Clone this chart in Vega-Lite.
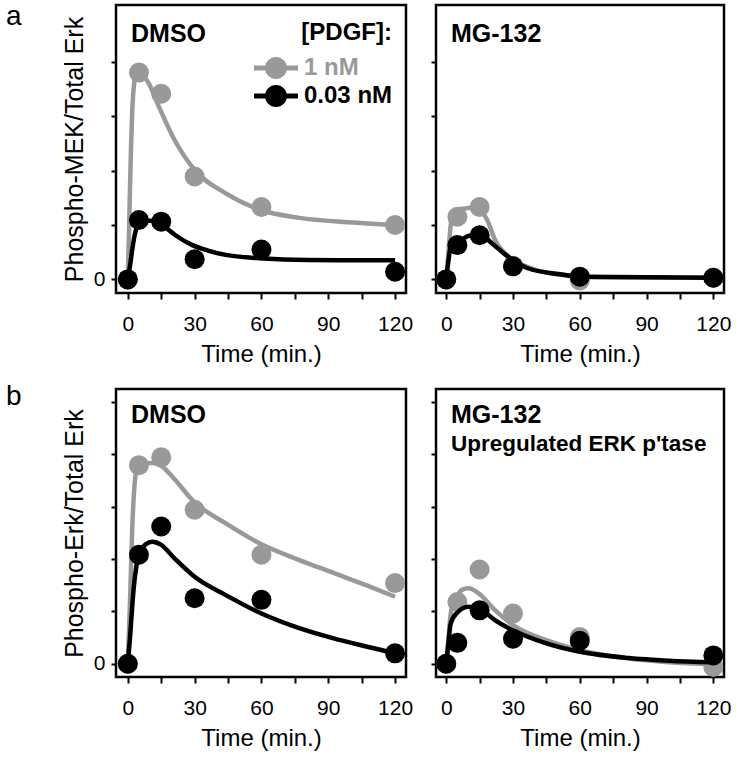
{
"$schema": "https://vega.github.io/schema/vega-lite/v6.json",
"background": "white",
"padding": {"left": 5, "top": 3, "right": 5, "bottom": 5},
"config": {
  "font": "Liberation Sans",
  "view": {"stroke": "black", "strokeWidth": 2.5},
  "axis": {"domain": false, "grid": false, "tickColor": "black", "tickWidth": 2, "labelColor": "black", "titleColor": "black", "titleFontWeight": "normal", "labelFont": "Liberation Sans", "titleFont": "Liberation Sans", "labelFontSize": 21}
},
"datasets": {
"pts": [
{"panel":"aDMSO","pdgf":"1 nM","t":0,"v":0},{"panel":"aDMSO","pdgf":"1 nM","t":5,"v":3.80},{"panel":"aDMSO","pdgf":"1 nM","t":15,"v":3.41},{"panel":"aDMSO","pdgf":"1 nM","t":30,"v":1.89},{"panel":"aDMSO","pdgf":"1 nM","t":60,"v":1.33},{"panel":"aDMSO","pdgf":"1 nM","t":120,"v":1.00},
{"panel":"aDMSO","pdgf":"0.03 nM","t":0,"v":0},{"panel":"aDMSO","pdgf":"0.03 nM","t":5,"v":1.09},{"panel":"aDMSO","pdgf":"0.03 nM","t":15,"v":1.06},{"panel":"aDMSO","pdgf":"0.03 nM","t":30,"v":0.37},{"panel":"aDMSO","pdgf":"0.03 nM","t":60,"v":0.55},{"panel":"aDMSO","pdgf":"0.03 nM","t":120,"v":0.14},
{"panel":"aMG","pdgf":"1 nM","t":0,"v":0},{"panel":"aMG","pdgf":"1 nM","t":5,"v":1.15},{"panel":"aMG","pdgf":"1 nM","t":15,"v":1.33},{"panel":"aMG","pdgf":"1 nM","t":30,"v":0.25},{"panel":"aMG","pdgf":"1 nM","t":60,"v":-0.02},{"panel":"aMG","pdgf":"1 nM","t":120,"v":0.03},
{"panel":"aMG","pdgf":"0.03 nM","t":0,"v":0},{"panel":"aMG","pdgf":"0.03 nM","t":5,"v":0.63},{"panel":"aMG","pdgf":"0.03 nM","t":15,"v":0.81},{"panel":"aMG","pdgf":"0.03 nM","t":30,"v":0.24},{"panel":"aMG","pdgf":"0.03 nM","t":60,"v":0.05},{"panel":"aMG","pdgf":"0.03 nM","t":120,"v":0.03},
{"panel":"bDMSO","pdgf":"1 nM","t":0,"v":0},{"panel":"bDMSO","pdgf":"1 nM","t":5,"v":3.79},{"panel":"bDMSO","pdgf":"1 nM","t":15,"v":3.94},{"panel":"bDMSO","pdgf":"1 nM","t":30,"v":2.94},{"panel":"bDMSO","pdgf":"1 nM","t":60,"v":2.08},{"panel":"bDMSO","pdgf":"1 nM","t":120,"v":1.54},
{"panel":"bDMSO","pdgf":"0.03 nM","t":0,"v":0},{"panel":"bDMSO","pdgf":"0.03 nM","t":5,"v":2.08},{"panel":"bDMSO","pdgf":"0.03 nM","t":15,"v":2.62},{"panel":"bDMSO","pdgf":"0.03 nM","t":30,"v":1.25},{"panel":"bDMSO","pdgf":"0.03 nM","t":60,"v":1.22},{"panel":"bDMSO","pdgf":"0.03 nM","t":120,"v":0.20},
{"panel":"bMG","pdgf":"1 nM","t":0,"v":0},{"panel":"bMG","pdgf":"1 nM","t":5,"v":1.18},{"panel":"bMG","pdgf":"1 nM","t":15,"v":1.80},{"panel":"bMG","pdgf":"1 nM","t":30,"v":0.96},{"panel":"bMG","pdgf":"1 nM","t":60,"v":0.51},{"panel":"bMG","pdgf":"1 nM","t":120,"v":-0.06},
{"panel":"bMG","pdgf":"0.03 nM","t":0,"v":0},{"panel":"bMG","pdgf":"0.03 nM","t":5,"v":0.40},{"panel":"bMG","pdgf":"0.03 nM","t":15,"v":1.02},{"panel":"bMG","pdgf":"0.03 nM","t":30,"v":0.48},{"panel":"bMG","pdgf":"0.03 nM","t":60,"v":0.44},{"panel":"bMG","pdgf":"0.03 nM","t":120,"v":0.16}
],
"curves": [
{"panel":"aDMSO","pdgf":"1 nM","t":0,"v":0},{"panel":"aDMSO","pdgf":"1 nM","t":0.5,"v":0.8},{"panel":"aDMSO","pdgf":"1 nM","t":1,"v":1.7},{"panel":"aDMSO","pdgf":"1 nM","t":1.5,"v":2.5},{"panel":"aDMSO","pdgf":"1 nM","t":2,"v":3.1},{"panel":"aDMSO","pdgf":"1 nM","t":3,"v":3.65},{"panel":"aDMSO","pdgf":"1 nM","t":4,"v":3.82},{"panel":"aDMSO","pdgf":"1 nM","t":5,"v":3.85},{"panel":"aDMSO","pdgf":"1 nM","t":7,"v":3.75},{"panel":"aDMSO","pdgf":"1 nM","t":9.4,"v":3.6},{"panel":"aDMSO","pdgf":"1 nM","t":14,"v":3.17},{"panel":"aDMSO","pdgf":"1 nM","t":21,"v":2.56},{"panel":"aDMSO","pdgf":"1 nM","t":30,"v":2.01},{"panel":"aDMSO","pdgf":"1 nM","t":44,"v":1.58},{"panel":"aDMSO","pdgf":"1 nM","t":60,"v":1.27},{"panel":"aDMSO","pdgf":"1 nM","t":77,"v":1.13},{"panel":"aDMSO","pdgf":"1 nM","t":99,"v":1.05},{"panel":"aDMSO","pdgf":"1 nM","t":120,"v":1.0},
{"panel":"aDMSO","pdgf":"0.03 nM","t":0,"v":0},{"panel":"aDMSO","pdgf":"0.03 nM","t":1,"v":0.25},{"panel":"aDMSO","pdgf":"0.03 nM","t":2,"v":0.55},{"panel":"aDMSO","pdgf":"0.03 nM","t":3,"v":0.8},{"panel":"aDMSO","pdgf":"0.03 nM","t":4,"v":0.95},{"panel":"aDMSO","pdgf":"0.03 nM","t":5,"v":1.02},{"panel":"aDMSO","pdgf":"0.03 nM","t":8,"v":1.08},{"panel":"aDMSO","pdgf":"0.03 nM","t":12,"v":1.07},{"panel":"aDMSO","pdgf":"0.03 nM","t":15,"v":1.02},{"panel":"aDMSO","pdgf":"0.03 nM","t":18,"v":0.92},{"panel":"aDMSO","pdgf":"0.03 nM","t":21.4,"v":0.81},{"panel":"aDMSO","pdgf":"0.03 nM","t":29,"v":0.63},{"panel":"aDMSO","pdgf":"0.03 nM","t":36,"v":0.53},{"panel":"aDMSO","pdgf":"0.03 nM","t":44,"v":0.45},{"panel":"aDMSO","pdgf":"0.03 nM","t":59,"v":0.39},{"panel":"aDMSO","pdgf":"0.03 nM","t":81,"v":0.355},{"panel":"aDMSO","pdgf":"0.03 nM","t":120,"v":0.35},
{"panel":"aMG","pdgf":"1 nM","t":0,"v":0},{"panel":"aMG","pdgf":"1 nM","t":1,"v":0.5},{"panel":"aMG","pdgf":"1 nM","t":2,"v":1.0},{"panel":"aMG","pdgf":"1 nM","t":3,"v":1.2},{"panel":"aMG","pdgf":"1 nM","t":5,"v":1.28},{"panel":"aMG","pdgf":"1 nM","t":8,"v":1.3},{"panel":"aMG","pdgf":"1 nM","t":12,"v":1.32},{"panel":"aMG","pdgf":"1 nM","t":15,"v":1.28},{"panel":"aMG","pdgf":"1 nM","t":18.4,"v":1.09},{"panel":"aMG","pdgf":"1 nM","t":22,"v":0.72},{"panel":"aMG","pdgf":"1 nM","t":28,"v":0.42},{"panel":"aMG","pdgf":"1 nM","t":37,"v":0.22},{"panel":"aMG","pdgf":"1 nM","t":52,"v":0.08},{"panel":"aMG","pdgf":"1 nM","t":70,"v":0.04},{"panel":"aMG","pdgf":"1 nM","t":120,"v":0.03},
{"panel":"aMG","pdgf":"0.03 nM","t":0,"v":0},{"panel":"aMG","pdgf":"0.03 nM","t":1,"v":0.35},{"panel":"aMG","pdgf":"0.03 nM","t":2,"v":0.6},{"panel":"aMG","pdgf":"0.03 nM","t":5,"v":0.67},{"panel":"aMG","pdgf":"0.03 nM","t":10,"v":0.8},{"panel":"aMG","pdgf":"0.03 nM","t":15,"v":0.83},{"panel":"aMG","pdgf":"0.03 nM","t":20.6,"v":0.66},{"panel":"aMG","pdgf":"0.03 nM","t":26.7,"v":0.45},{"panel":"aMG","pdgf":"0.03 nM","t":37,"v":0.2},{"panel":"aMG","pdgf":"0.03 nM","t":52,"v":0.09},{"panel":"aMG","pdgf":"0.03 nM","t":60,"v":0.05},{"panel":"aMG","pdgf":"0.03 nM","t":120,"v":0.03},
{"panel":"bDMSO","pdgf":"1 nM","t":0,"v":0},{"panel":"bDMSO","pdgf":"1 nM","t":1,"v":1.2},{"panel":"bDMSO","pdgf":"1 nM","t":2,"v":2.6},{"panel":"bDMSO","pdgf":"1 nM","t":3,"v":3.4},{"panel":"bDMSO","pdgf":"1 nM","t":4,"v":3.7},{"panel":"bDMSO","pdgf":"1 nM","t":6,"v":3.8},{"panel":"bDMSO","pdgf":"1 nM","t":11,"v":3.83},{"panel":"bDMSO","pdgf":"1 nM","t":15,"v":3.78},{"panel":"bDMSO","pdgf":"1 nM","t":20,"v":3.57},{"panel":"bDMSO","pdgf":"1 nM","t":30,"v":3.08},{"panel":"bDMSO","pdgf":"1 nM","t":44,"v":2.68},{"panel":"bDMSO","pdgf":"1 nM","t":60,"v":2.28},{"panel":"bDMSO","pdgf":"1 nM","t":77,"v":1.98},{"panel":"bDMSO","pdgf":"1 nM","t":92,"v":1.74},{"panel":"bDMSO","pdgf":"1 nM","t":107,"v":1.5},{"panel":"bDMSO","pdgf":"1 nM","t":120,"v":1.28},
{"panel":"bDMSO","pdgf":"0.03 nM","t":0,"v":0},{"panel":"bDMSO","pdgf":"0.03 nM","t":1,"v":0.5},{"panel":"bDMSO","pdgf":"0.03 nM","t":2,"v":1.1},{"panel":"bDMSO","pdgf":"0.03 nM","t":2.7,"v":1.47},{"panel":"bDMSO","pdgf":"0.03 nM","t":4,"v":1.9},{"panel":"bDMSO","pdgf":"0.03 nM","t":5,"v":2.1},{"panel":"bDMSO","pdgf":"0.03 nM","t":8,"v":2.28},{"panel":"bDMSO","pdgf":"0.03 nM","t":11,"v":2.33},{"panel":"bDMSO","pdgf":"0.03 nM","t":15,"v":2.27},{"panel":"bDMSO","pdgf":"0.03 nM","t":21,"v":2.01},{"panel":"bDMSO","pdgf":"0.03 nM","t":30,"v":1.66},{"panel":"bDMSO","pdgf":"0.03 nM","t":44,"v":1.31},{"panel":"bDMSO","pdgf":"0.03 nM","t":60,"v":0.96},{"panel":"bDMSO","pdgf":"0.03 nM","t":77,"v":0.68},{"panel":"bDMSO","pdgf":"0.03 nM","t":92,"v":0.49},{"panel":"bDMSO","pdgf":"0.03 nM","t":107,"v":0.33},{"panel":"bDMSO","pdgf":"0.03 nM","t":120,"v":0.2},
{"panel":"bMG","pdgf":"1 nM","t":0,"v":0},{"panel":"bMG","pdgf":"1 nM","t":1,"v":0.5},{"panel":"bMG","pdgf":"1 nM","t":2,"v":0.95},{"panel":"bMG","pdgf":"1 nM","t":3,"v":1.15},{"panel":"bMG","pdgf":"1 nM","t":5,"v":1.3},{"panel":"bMG","pdgf":"1 nM","t":7,"v":1.41},{"panel":"bMG","pdgf":"1 nM","t":10,"v":1.44},{"panel":"bMG","pdgf":"1 nM","t":14.7,"v":1.34},{"panel":"bMG","pdgf":"1 nM","t":22,"v":1.02},{"panel":"bMG","pdgf":"1 nM","t":30,"v":0.74},{"panel":"bMG","pdgf":"1 nM","t":45,"v":0.45},{"panel":"bMG","pdgf":"1 nM","t":60,"v":0.26},{"panel":"bMG","pdgf":"1 nM","t":82,"v":0.1},{"panel":"bMG","pdgf":"1 nM","t":100,"v":0.03},{"panel":"bMG","pdgf":"1 nM","t":120,"v":-0.01},
{"panel":"bMG","pdgf":"0.03 nM","t":0,"v":0},{"panel":"bMG","pdgf":"0.03 nM","t":1,"v":0.4},{"panel":"bMG","pdgf":"0.03 nM","t":2,"v":0.77},{"panel":"bMG","pdgf":"0.03 nM","t":5,"v":0.98},{"panel":"bMG","pdgf":"0.03 nM","t":10,"v":1.09},{"panel":"bMG","pdgf":"0.03 nM","t":15,"v":1.05},{"panel":"bMG","pdgf":"0.03 nM","t":22,"v":0.83},{"panel":"bMG","pdgf":"0.03 nM","t":30,"v":0.64},{"panel":"bMG","pdgf":"0.03 nM","t":45,"v":0.39},{"panel":"bMG","pdgf":"0.03 nM","t":60,"v":0.23},{"panel":"bMG","pdgf":"0.03 nM","t":82,"v":0.11},{"panel":"bMG","pdgf":"0.03 nM","t":100,"v":0.06},{"panel":"bMG","pdgf":"0.03 nM","t":120,"v":0.03}
]
},
"spacing": 15,
"resolve": {"scale": {"x": "independent", "y": "independent", "fill": "independent"}, "legend": {"fill": "independent"}},
"vconcat": [
{
  "title": {"text": "a", "orient": "left", "anchor": "end", "angle": 0, "align": "right", "baseline": "top", "offset": 24, "dy": -2, "fontSize": 28, "fontWeight": "normal", "frame": "group", "color": "black"},
  "bounds": "flush",
  "spacing": 30,
  "resolve": {"scale": {"x": "independent", "y": "independent", "fill": "independent"}, "legend": {"fill": "independent"}},
  "hconcat": [
  {
    "width": 290, "height": 288,
    "title": {"text": "DMSO", "anchor": "start", "frame": "group", "offset": 0, "dx": 15, "dy": 42, "baseline": "top", "fontSize": 25, "fontWeight": "bold", "color": "black"},
    "encoding": {
      "x": {"field": "t", "type": "quantitative", "scale": {"domain": [-5.3, 124.9], "nice": false, "zero": false}, "axis": {"title": "Time (min.)", "values": [0,15,30,45,60,75,90,105,120], "labelExpr": "datum.value % 30 === 0 ? datum.label : ''", "tickSize": 6, "labelPadding": 14, "titlePadding": 8, "labelFlush": false, "labelOverlap": false, "titleFontSize": 24}},
      "y": {"field": "v", "type": "quantitative", "scale": {"domain": [-0.25, 5.04], "nice": false, "zero": false}, "axis": {"title": "Phospho-MEK/Total Erk", "values": [0,1,2,3,4], "labelExpr": "datum.value === 0 ? '0' : ''", "tickSize": 5, "labelPadding": 6, "titlePadding": 6, "titleFontSize": 25, "labelOverlap": false}}
    },
    "layer": [
      {"data": {"name": "curves"}, "transform": [{"filter": "datum.panel === 'aDMSO' && datum.pdgf === '1 nM'"}], "mark": {"type": "line", "strokeWidth": 4.5, "interpolate": "monotone", "color": "#999999"}},
      {"data": {"name": "pts"}, "transform": [{"filter": "datum.panel === 'aDMSO' && datum.pdgf === '1 nM'"}], "mark": {"type": "circle", "size": 400, "opacity": 1, "strokeWidth": 0}, "encoding": {"fill": {"field": "pdgf", "type": "nominal", "scale": {"domain": ["1 nM", "0.03 nM"], "range": ["#999999", "#000000"]}, "legend": {"title": "[PDGF]:", "orient": "none", "legendX": 148, "legendY": 16, "padding": 0, "symbolType": "M-2,-0.23L2,-0.23L2,0.23L-2,0.23Z M1,0A1,1 0 1,1 -1,0A1,1 0 1,1 1,0Z", "symbolSize": 484, "symbolStrokeWidth": 0, "symbolOpacity": 1, "labelFontSize": 24, "labelFontWeight": "bold", "labelOffset": 16, "titleFontSize": 24, "titleFontWeight": "bold", "titleColor": "black", "titleAnchor": "end", "titlePadding": 11, "rowPadding": 4, "labelFont": "Liberation Sans", "titleFont": "Liberation Sans", "labelColor": {"expr": "datum.value === '1 nM' ? '#999999' : '#000000'"}}}}},
      {"data": {"name": "curves"}, "transform": [{"filter": "datum.panel === 'aDMSO' && datum.pdgf === '0.03 nM'"}], "mark": {"type": "line", "strokeWidth": 4.5, "interpolate": "monotone", "color": "#000000"}},
      {"data": {"name": "pts"}, "transform": [{"filter": "datum.panel === 'aDMSO' && datum.pdgf === '0.03 nM'"}], "mark": {"type": "circle", "size": 400, "opacity": 1, "strokeWidth": 0}, "encoding": {"fill": {"field": "pdgf", "type": "nominal", "scale": {"domain": ["1 nM", "0.03 nM"], "range": ["#999999", "#000000"]}, "legend": {"title": "[PDGF]:", "orient": "none", "legendX": 148, "legendY": 16, "padding": 0, "symbolType": "M-2,-0.23L2,-0.23L2,0.23L-2,0.23Z M1,0A1,1 0 1,1 -1,0A1,1 0 1,1 1,0Z", "symbolSize": 484, "symbolStrokeWidth": 0, "symbolOpacity": 1, "labelFontSize": 24, "labelFontWeight": "bold", "labelOffset": 16, "titleFontSize": 24, "titleFontWeight": "bold", "titleColor": "black", "titleAnchor": "end", "titlePadding": 11, "rowPadding": 4, "labelFont": "Liberation Sans", "titleFont": "Liberation Sans", "labelColor": {"expr": "datum.value === '1 nM' ? '#999999' : '#000000'"}}}}}
    ]
  },
  {
    "width": 288, "height": 288,
    "title": {"text": "MG-132", "anchor": "start", "frame": "group", "offset": 0, "dx": 15, "dy": 42, "baseline": "top", "fontSize": 25, "fontWeight": "bold", "color": "black"},
    "encoding": {
      "x": {"field": "t", "type": "quantitative", "scale": {"domain": [-4.6, 124.8], "nice": false, "zero": false}, "axis": {"title": "Time (min.)", "values": [0,15,30,45,60,75,90,105,120], "labelExpr": "datum.value % 30 === 0 ? datum.label : ''", "tickSize": 6, "labelPadding": 14, "titlePadding": 8, "labelFlush": false, "labelOverlap": false, "titleFontSize": 24}},
      "y": {"field": "v", "type": "quantitative", "scale": {"domain": [-0.25, 5.04], "nice": false, "zero": false}, "axis": {"title": null, "values": [0,1,2,3,4], "labels": false, "tickSize": 5}}
    },
    "layer": [
      {"data": {"name": "curves"}, "transform": [{"filter": "datum.panel === 'aMG' && datum.pdgf === '1 nM'"}], "mark": {"type": "line", "strokeWidth": 4.5, "interpolate": "monotone", "color": "#999999"}},
      {"data": {"name": "pts"}, "transform": [{"filter": "datum.panel === 'aMG' && datum.pdgf === '1 nM'"}], "mark": {"type": "circle", "size": 400, "opacity": 1, "strokeWidth": 0}, "encoding": {"fill": {"field": "pdgf", "type": "nominal", "scale": {"domain": ["1 nM", "0.03 nM"], "range": ["#999999", "#000000"]}, "legend": null}}},
      {"data": {"name": "curves"}, "transform": [{"filter": "datum.panel === 'aMG' && datum.pdgf === '0.03 nM'"}], "mark": {"type": "line", "strokeWidth": 4.5, "interpolate": "monotone", "color": "#000000"}},
      {"data": {"name": "pts"}, "transform": [{"filter": "datum.panel === 'aMG' && datum.pdgf === '0.03 nM'"}], "mark": {"type": "circle", "size": 400, "opacity": 1, "strokeWidth": 0}, "encoding": {"fill": {"field": "pdgf", "type": "nominal", "scale": {"domain": ["1 nM", "0.03 nM"], "range": ["#999999", "#000000"]}, "legend": null}}}
    ]
  }
  ]
},
{
  "title": {"text": "b", "orient": "left", "anchor": "end", "angle": 0, "align": "right", "baseline": "top", "offset": 24, "dy": -6, "fontSize": 28, "fontWeight": "normal", "frame": "group", "color": "black"},
  "bounds": "flush",
  "spacing": 30,
  "resolve": {"scale": {"x": "independent", "y": "independent", "fill": "independent"}, "legend": {"fill": "independent"}},
  "hconcat": [
  {
    "width": 290, "height": 288,
    "title": {"text": "DMSO", "anchor": "start", "frame": "group", "offset": 0, "dx": 15, "dy": 39, "baseline": "top", "fontSize": 25, "fontWeight": "bold", "color": "black"},
    "encoding": {
      "x": {"field": "t", "type": "quantitative", "scale": {"domain": [-5.3, 124.9], "nice": false, "zero": false}, "axis": {"title": "Time (min.)", "values": [0,15,30,45,60,75,90,105,120], "labelExpr": "datum.value % 30 === 0 ? datum.label : ''", "tickSize": 6, "labelPadding": 14, "titlePadding": 8, "labelFlush": false, "labelOverlap": false, "titleFontSize": 24}},
      "y": {"field": "v", "type": "quantitative", "scale": {"domain": [-0.252, 5.244], "nice": false, "zero": false}, "axis": {"title": "Phospho-Erk/Total Erk", "values": [0,1,2,3,4,5], "labelExpr": "datum.value === 0 ? '0' : ''", "tickSize": 5, "labelPadding": 6, "titlePadding": 6, "titleFontSize": 25, "labelOverlap": false}}
    },
    "layer": [
      {"data": {"name": "curves"}, "transform": [{"filter": "datum.panel === 'bDMSO' && datum.pdgf === '1 nM'"}], "mark": {"type": "line", "strokeWidth": 4.5, "interpolate": "monotone", "color": "#999999"}},
      {"data": {"name": "pts"}, "transform": [{"filter": "datum.panel === 'bDMSO' && datum.pdgf === '1 nM'"}], "mark": {"type": "circle", "size": 400, "opacity": 1, "strokeWidth": 0}, "encoding": {"fill": {"field": "pdgf", "type": "nominal", "scale": {"domain": ["1 nM", "0.03 nM"], "range": ["#999999", "#000000"]}, "legend": null}}},
      {"data": {"name": "curves"}, "transform": [{"filter": "datum.panel === 'bDMSO' && datum.pdgf === '0.03 nM'"}], "mark": {"type": "line", "strokeWidth": 4.5, "interpolate": "monotone", "color": "#000000"}},
      {"data": {"name": "pts"}, "transform": [{"filter": "datum.panel === 'bDMSO' && datum.pdgf === '0.03 nM'"}], "mark": {"type": "circle", "size": 400, "opacity": 1, "strokeWidth": 0}, "encoding": {"fill": {"field": "pdgf", "type": "nominal", "scale": {"domain": ["1 nM", "0.03 nM"], "range": ["#999999", "#000000"]}, "legend": null}}}
    ]
  },
  {
    "width": 288, "height": 288,
    "title": {"text": "MG-132", "subtitle": "Upregulated ERK p'tase", "anchor": "start", "frame": "group", "offset": 0, "dx": 15, "dy": 66, "baseline": "top", "fontSize": 25, "fontWeight": "bold", "color": "black", "subtitleFontSize": 22.5, "subtitleFontWeight": "bold", "subtitleColor": "black", "subtitleFont": "Liberation Sans", "subtitlePadding": 5},
    "encoding": {
      "x": {"field": "t", "type": "quantitative", "scale": {"domain": [-4.6, 124.8], "nice": false, "zero": false}, "axis": {"title": "Time (min.)", "values": [0,15,30,45,60,75,90,105,120], "labelExpr": "datum.value % 30 === 0 ? datum.label : ''", "tickSize": 6, "labelPadding": 14, "titlePadding": 8, "labelFlush": false, "labelOverlap": false, "titleFontSize": 24}},
      "y": {"field": "v", "type": "quantitative", "scale": {"domain": [-0.252, 5.244], "nice": false, "zero": false}, "axis": {"title": null, "values": [0,1,2,3,4,5], "labels": false, "tickSize": 5}}
    },
    "layer": [
      {"data": {"name": "curves"}, "transform": [{"filter": "datum.panel === 'bMG' && datum.pdgf === '1 nM'"}], "mark": {"type": "line", "strokeWidth": 4.5, "interpolate": "monotone", "color": "#999999"}},
      {"data": {"name": "pts"}, "transform": [{"filter": "datum.panel === 'bMG' && datum.pdgf === '1 nM'"}], "mark": {"type": "circle", "size": 400, "opacity": 1, "strokeWidth": 0}, "encoding": {"fill": {"field": "pdgf", "type": "nominal", "scale": {"domain": ["1 nM", "0.03 nM"], "range": ["#999999", "#000000"]}, "legend": null}}},
      {"data": {"name": "curves"}, "transform": [{"filter": "datum.panel === 'bMG' && datum.pdgf === '0.03 nM'"}], "mark": {"type": "line", "strokeWidth": 4.5, "interpolate": "monotone", "color": "#000000"}},
      {"data": {"name": "pts"}, "transform": [{"filter": "datum.panel === 'bMG' && datum.pdgf === '0.03 nM'"}], "mark": {"type": "circle", "size": 400, "opacity": 1, "strokeWidth": 0}, "encoding": {"fill": {"field": "pdgf", "type": "nominal", "scale": {"domain": ["1 nM", "0.03 nM"], "range": ["#999999", "#000000"]}, "legend": null}}}
    ]
  }
  ]
}
]
}
